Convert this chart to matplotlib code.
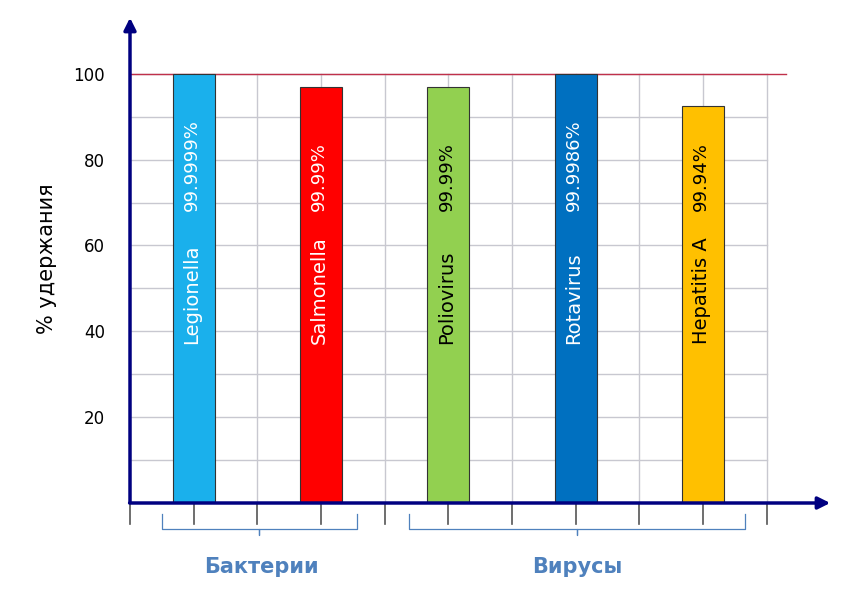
import matplotlib
matplotlib.use("Agg")
import matplotlib.pyplot as plt

names = ["Legionella", "Salmonella", "Poliovirus", "Rotavirus", "Hepatitis A"]
pcts = ["99.9999%", "99.99%", "99.99%", "99.9986%", "99.94%"]
values = [100, 97, 97, 100, 92.5]
colors = ["#1ab0ec", "#ff0000", "#92d050", "#0070c0", "#ffc000"]
txtcol = ["white", "white", "black", "white", "black"]
positions = [1, 3, 5, 7, 9]
yticks = [20, 40, 60, 80, 100]
groups = ["Бактерии", "Вирусы"]

fig = plt.figure(figsize=(8.68, 5.97), dpi=100)
ax = fig.add_axes([130/868, 94/597, 703/868, 488/597])
ax.set_xlim(0, 11.04)
ax.set_ylim(0, 113.7)
for x in range(0, 11):
    ax.plot([x, x], [0, 100], color="#c8c8d0", lw=1, zorder=0)
for y in range(10, 101, 10):
    ax.plot([0, 10], [y, y], color="#c8c8d0", lw=1, zorder=0)
ax.plot([0, 10.3], [100, 100], color="#c0304a", lw=1, zorder=1)
ax.bar(positions, values, width=0.66, color=colors, edgecolor="#333333", lw=0.8, zorder=2)
for x, n, p, c in zip(positions, names, pcts, txtcol):
    ax.text(x - 0.03, 37, n, rotation=90, ha="center", va="bottom", color=c, fontsize=14, zorder=3)
    ax.text(x - 0.03, 68, p, rotation=90, ha="center", va="bottom", color=c, fontsize=13, zorder=3)
for s in ax.spines.values():
    s.set_visible(False)
ax.set_xticks([])
ax.set_yticks(yticks)
ax.tick_params(axis="y", length=0, labelsize=12, pad=18)
ax.set_ylabel("% удержания", fontsize=15, labelpad=12)
navy = "#000080"
ax.annotate("", xy=(0, 113.7), xytext=(0, -0.5), arrowprops=dict(arrowstyle="-|>", color=navy, lw=2.5, mutation_scale=18), annotation_clip=False)
ax.annotate("", xy=(11.04, 0), xytext=(-0.05, 0), arrowprops=dict(arrowstyle="-|>", color=navy, lw=2.5, mutation_scale=18), annotation_clip=False)
for x in range(0, 11):
    ax.plot([x, x], [0, -5], color="#555555", lw=1.2, clip_on=False)
blue = "#4f81bd"
def brace(x0, x1, xm, label, lx):
    y0, y1 = -2.5, -6
    ax.plot([x0, x0, xm, xm, xm, x1, x1], [y0, y1, y1, y1 - 1.5, y1, y1, y0], color=blue, lw=0.9, clip_on=False)
    ax.text(lx, -15, label, ha="center", va="center", color=blue, fontsize=15, fontweight="bold")
brace(0.5, 3.56, 2.02, groups[0], 2.06)
brace(4.38, 9.66, 7.02, groups[1], 7.02)
fig.savefig("out.png", dpi=100)
